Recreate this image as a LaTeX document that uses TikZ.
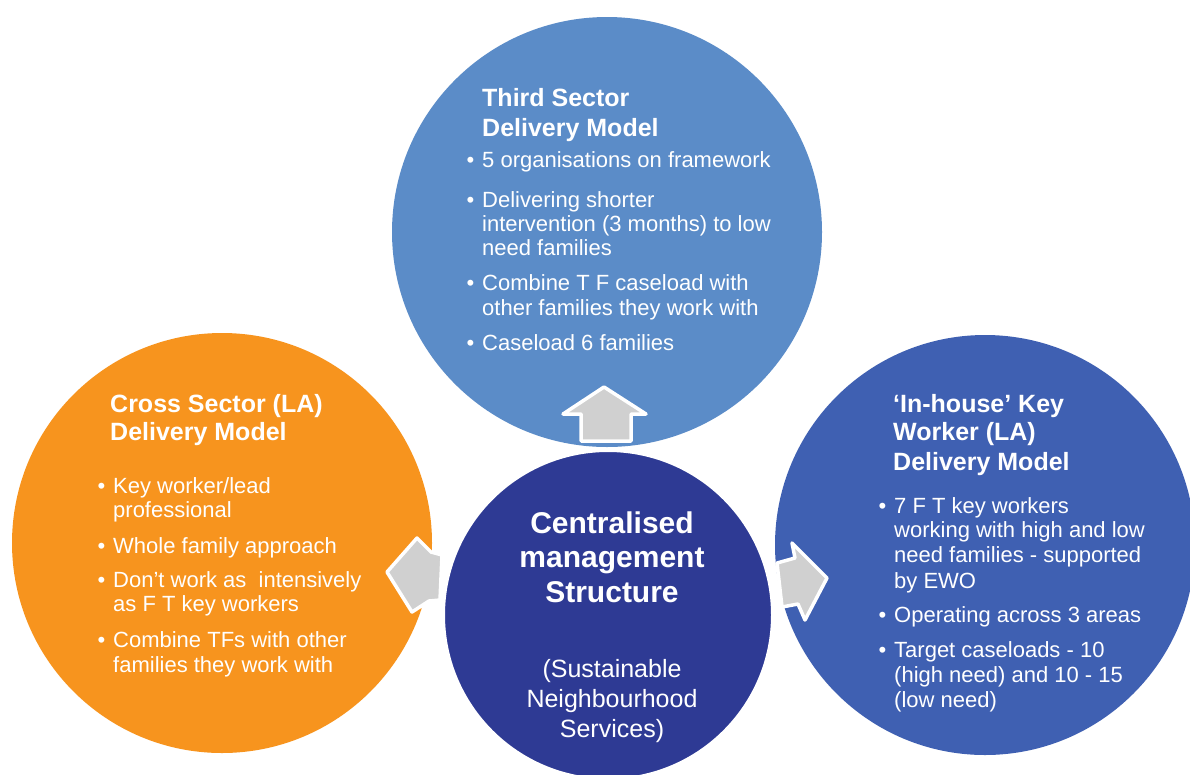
\documentclass[tikz,border=0pt]{standalone}
\usepackage{fontspec}
\setmainfont{Liberation Sans}
\definecolor{topblue}{HTML}{5B8CC8}
\definecolor{orng}{HTML}{F7941E}
\definecolor{rblue}{HTML}{3F60B2}
\definecolor{navy}{HTML}{2E3A94}
\definecolor{arrgray}{HTML}{D0D0D0}
\newcommand\bulmk{\llap{•\hspace{8pt}}}
\begin{document}
\begin{tikzpicture}[x=1pt,y=-1pt,
  disc/.style={circle, inner sep=0pt, minimum size=#1},
  blockarrow/.style={fill=arrgray, draw=white, line width=3.5pt, line join=round},
  ttl/.style={text=white, font=\bfseries\fontsize{25}{29}\selectfont, inner sep=0pt, anchor=base west},
  bdy/.style={text=white, font=\fontsize{22}{24}\selectfont, inner sep=0pt, anchor=base west},
  ctitle/.style={text=white, font=\bfseries\fontsize{30}{34}\selectfont, inner sep=0pt, anchor=base},
  csub/.style={text=white, font=\fontsize{25}{29}\selectfont, inner sep=0pt, anchor=base}]
\useasboundingbox (0,0) rectangle (1190,774);
\fill[white] (0,0) rectangle (1190,774);
\begin{scope}
\clip (0,0) rectangle (1190,774);
\node[disc=430pt, fill=topblue] (topc) at (607,232) {};
\node[disc=420pt, fill=orng] (leftc) at (222,543) {};
\node[disc=420pt, fill=rblue] (rightc) at (985,545) {};
\node[disc=330pt, fill=navy, draw=white, line width=4pt] (centc) at (608,615) {};
\end{scope}
% block arrows
\draw[blockarrow] (604,387) -- (646,414) -- (631,414) -- (631,441) -- (581,441) -- (581,414) -- (563,414) -- cycle;
\draw[blockarrow] (387,572) -- (417,538) -- (431,552) -- (442,555) -- (440,600) -- (429,601) -- (412,612) -- cycle;
\draw[blockarrow] (827,578) -- (792,543) -- (795,558) -- (777,563) -- (782,607) -- (798,604) -- (805,620) -- cycle;
% top circle text
\foreach \y/\t [count=\i] in {106/{Third Sector}, 136/{Delivery Model}}
  \node[ttl] (tt\i) at (482,\y) {\t};
\foreach \y/\t [count=\i] in {167/{\bulmk 5 organisations on framework},
  207/{\bulmk Delivering shorter}, 231/{intervention (3 months) to low}, 255/{need families},
  290/{\bulmk Combine T F caseload with}, 315/{other families they work with},
  350/{\bulmk Caseload 6 families}}
  \node[bdy] (tb\i) at (482,\y) {\t};
% left circle text
\foreach \y/\t [count=\i] in {412/{Cross Sector (LA)}, 440/{Delivery Model}}
  \node[ttl] (lt\i) at (110,\y) {\t};
\foreach \y/\t [count=\i] in {493/{\bulmk Key worker/lead}, 517/{professional},
  553/{\bulmk Whole family approach},
  587/{\bulmk Don’t work as~ intensively}, 611/{as F T key workers},
  647/{\bulmk Combine TFs with other}, 672/{families they work with}}
  \node[bdy] (lb\i) at (113,\y) {\t};
% right circle text
\foreach \y/\t [count=\i] in {412/{‘In-house’ Key}, 440/{Worker (LA)}, 470/{Delivery Model}}
  \node[ttl] (rt\i) at (893,\y) {\t};
\foreach \y/\t [count=\i] in {513/{\bulmk 7 F T key workers}, 537/{working with high and low},
  562/{need families - supported}, 588/{by EWO},
  622/{\bulmk Operating across 3 areas},
  657/{\bulmk Target caseloads - 10}, 682/{(high need) and 10 - 15}, 707/{(low need)}}
  \node[bdy] (rb\i) at (894,\y) {\t};
% centre text
\foreach \y/\t [count=\i] in {533/{Centralised}, 567/{management}, 602/{Structure}}
  \node[ctitle] (ct\i) at (612,\y) {\t};
\foreach \y/\t [count=\i] in {677/{(Sustainable}, 707/{Neighbourhood}, 737/{Services)}}
  \node[csub] (cs\i) at (612,\y) {\t};
\end{tikzpicture}
\end{document}
